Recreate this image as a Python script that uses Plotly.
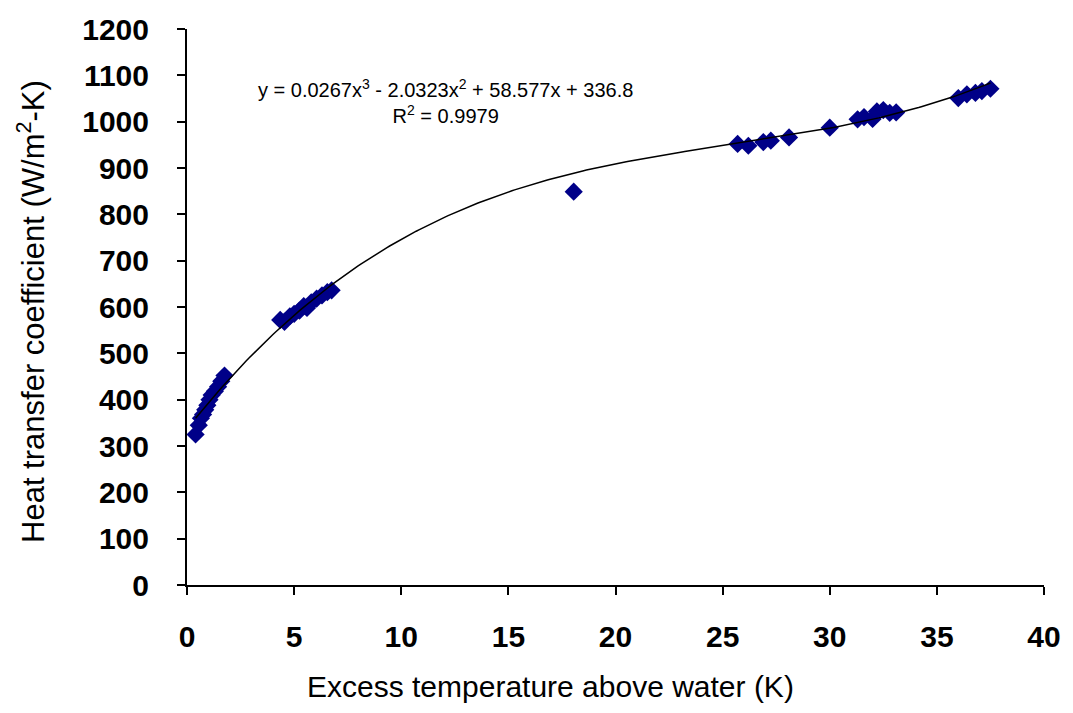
import numpy as np
import plotly.graph_objects as go

# Measured excess temperature (K) and heat transfer coefficient (W/m2-K)
excess_temp = [
    0.40, 0.55, 0.65, 0.75, 0.85, 0.95, 1.05, 1.15, 1.30, 1.45, 1.60, 1.75,
    4.35, 4.55, 4.80, 5.00, 5.25, 5.45, 5.60, 5.80, 6.05, 6.30, 6.55, 6.75,
    18.05,
    25.70, 26.20, 26.90, 27.25, 28.10,
    30.00,
    31.30, 31.60, 32.00, 32.20, 32.50, 32.80, 33.10,
    36.00, 36.40, 36.80, 37.10, 37.50,
]
heat_coeff = [
    325, 345, 360, 368, 378, 388, 400, 410, 418, 428, 440, 452,
    572, 568, 580, 585, 592, 602, 598, 610, 618, 625, 632, 636,
    849,
    952, 948, 956, 959, 966,
    987,
    1005, 1010, 1006, 1022, 1025, 1019, 1020,
    1051, 1059, 1062, 1066, 1071,
]

# Cubic trendline coefficients (highest power first) and fit quality
trend_coeffs = [0.0267, -2.0323, 58.577, 336.8]
r_squared = 0.9979

x_ticks = [0, 5, 10, 15, 20, 25, 30, 35, 40]
y_ticks = list(range(0, 1201, 100))

FONT = "Liberation Sans, Arial, sans-serif"

trend_x = np.linspace(min(excess_temp), max(excess_temp), 300)
trend_y = np.polyval(trend_coeffs, trend_x)

fig = go.Figure()

fig.add_trace(go.Scatter(
    x=excess_temp, y=heat_coeff, mode="markers",
    marker=dict(symbol="diamond", size=14, color="#000088",
                line=dict(width=0)),
    showlegend=False,
))

fig.add_trace(go.Scatter(
    x=trend_x, y=trend_y, mode="lines",
    line=dict(color="black", width=1.5),
    showlegend=False,
))

eq_text = (
    f"y = {trend_coeffs[0]}x<sup>3</sup> - {abs(trend_coeffs[1])}x<sup>2</sup>"
    f" + {trend_coeffs[2]}x + {trend_coeffs[3]}<br>"
    f"R<sup>2</sup> = {r_squared}"
)

W, H = 1073, 713
L, R, T, B = 187, 26, 22, 128
pw, ph = W - L - R, H - T - B


def px_to_paper(px, py):
    return (px - L) / pw, (H - B - py) / ph


ex, ey = px_to_paper(446, 95)
xt_x, xt_y = px_to_paper(552, 688)
yt_x, yt_y = px_to_paper(31, 308)

fig.add_annotation(
    x=ex, y=ey, xref="paper", yref="paper", text=eq_text,
    showarrow=False, align="center", xanchor="center", yanchor="middle",
    font=dict(family=FONT, size=20, color="black"),
)
fig.add_annotation(
    x=xt_x, y=xt_y, xref="paper", yref="paper",
    text="Excess temperature above water (K)",
    showarrow=False, xanchor="center", yanchor="middle",
    font=dict(family=FONT, size=30, color="black"),
)
fig.add_annotation(
    x=yt_x, y=yt_y, xref="paper", yref="paper",
    text="Heat transfer coefficient (W/m<sup>2</sup>-K)",
    showarrow=False, xanchor="center", yanchor="middle", textangle=-90,
    font=dict(family=FONT, size=31, color="black"),
)

axis_common = dict(
    showgrid=False, zeroline=False, showline=True, linecolor="black",
    linewidth=2, ticks="outside", ticklen=8, tickwidth=2, tickcolor="black",
    tickfont=dict(family=FONT, size=30, color="black", weight="bold"),
)

fig.update_xaxes(range=[0, 40], tickvals=x_ticks, ticklabelstandoff=16,
                 **axis_common)
fig.update_yaxes(range=[0, 1200], tickvals=y_ticks, ticklabelstandoff=22,
                 **axis_common)

fig.update_layout(
    width=W, height=H,
    margin=dict(l=L, r=R, t=T, b=B),
    paper_bgcolor="white", plot_bgcolor="white",
    font=dict(family=FONT, color="black"),
)

fig.write_html("out.html")
